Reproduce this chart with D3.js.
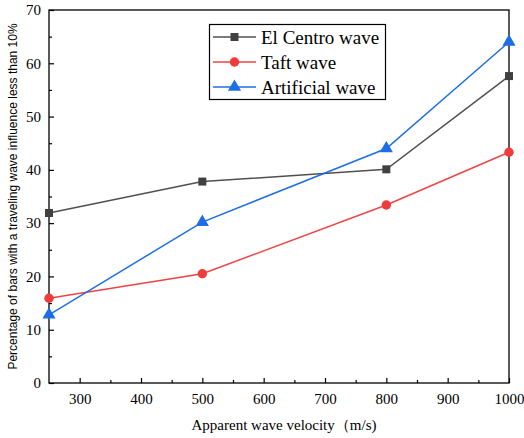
<!DOCTYPE html>
<html>
<head>
<meta charset="utf-8">
<script src="https://cdn.jsdelivr.net/npm/d3@7"></script>
<style>
  body { margin: 0; background: #fff; }
  svg { display: block; }
</style>
</head>
<body>
<svg id="chart" width="524" height="438"></svg>
<script>
// Apparent wave velocity (m/s)
const velocities = [250, 500, 800, 1000];
// Percentage of bars with traveling wave influence less than 10%
const elCentro = [31.9, 37.8, 40.1, 57.6];
const taft = [15.9, 20.5, 33.4, 43.3];
const artificial = [12.8, 30.2, 44.0, 64.0];
const seriesNames = ["El Centro wave", "Taft wave", "Artificial wave"];
const xTicks = [300, 400, 500, 600, 700, 800, 900, 1000];
const yTicks = [0, 10, 20, 30, 40, 50, 60, 70];

const series = [
  { name: seriesNames[0], values: elCentro, color: "#505050", mark: "#404040", shape: d3.symbolSquare, size: 64 },
  { name: seriesNames[1], values: taft, color: "#ef4444", mark: "#ef3b3b", shape: d3.symbolCircle, size: 70 },
  { name: seriesNames[2], values: artificial, color: "#1f6fe3", mark: "#1c6ee6", shape: d3.symbolTriangle, size: 75 }
];

const svg = d3.select("#chart");
const margin = { left: 49, right: 15, top: 10, bottom: 55 };
const W = 524, H = 438;
const x = d3.scaleLinear().domain([250, 1000]).range([margin.left, W - margin.right]);
const y = d3.scaleLinear().domain([0, 70]).range([H - margin.bottom, margin.top]);

const serif = "'Liberation Serif', 'Times New Roman', serif";

// Frame
svg.append("rect")
  .attr("x", x(250)).attr("y", y(70))
  .attr("width", x(1000) - x(250)).attr("height", y(0) - y(70))
  .attr("fill", "none").attr("stroke", "#000").attr("stroke-width", 1.3);

// Bottom axis: inward major and minor ticks
const xAxis = svg.append("g").attr("transform", `translate(0,${y(0)})`)
  .call(d3.axisBottom(x).tickValues(xTicks).tickFormat(d3.format("d"))
    .tickSizeInner(-5).tickSizeOuter(0).tickPadding(10));
xAxis.select(".domain").remove();
xAxis.selectAll("text").attr("font-family", serif).attr("font-size", 15).attr("fill", "#000");
xAxis.selectAll("line").attr("stroke-width", 1.2);
svg.append("g").attr("transform", `translate(0,${y(0)})`)
  .call(d3.axisBottom(x).tickValues(d3.range(350, 1000, 100)).tickSizeInner(-3).tickSizeOuter(0).tickFormat(""))
  .call(g => g.select(".domain").remove())
  .selectAll("line").attr("stroke-width", 1.2);

// Left axis
const yAxis = svg.append("g").attr("transform", `translate(${x(250)},0)`)
  .call(d3.axisLeft(y).tickValues(yTicks).tickFormat(d3.format("d"))
    .tickSizeInner(-5).tickSizeOuter(0).tickPadding(8));
yAxis.select(".domain").remove();
yAxis.selectAll("text").attr("font-family", serif).attr("font-size", 15).attr("fill", "#000");
yAxis.selectAll("line").attr("stroke-width", 1.2);
svg.append("g").attr("transform", `translate(${x(250)},0)`)
  .call(d3.axisLeft(y).tickValues(d3.range(5, 70, 10)).tickSizeInner(-3).tickSizeOuter(0).tickFormat(""))
  .call(g => g.select(".domain").remove())
  .selectAll("line").attr("stroke-width", 1.2);

// Axis titles
svg.append("text")
  .attr("x", (x(250) + x(1000)) / 2 + 5).attr("y", 430)
  .attr("text-anchor", "middle")
  .attr("font-family", serif).attr("font-size", 15)
  .text("Apparent wave velocity（m/s)");

svg.append("text")
  .attr("transform", `translate(17,${(y(0) + y(70)) / 2}) rotate(-90)`)
  .attr("text-anchor", "middle")
  .attr("font-family", "'Liberation Sans', Arial, sans-serif").attr("font-size", 12)
  .text("Percentage of bars with a traveling wave influence less than 10%");

// Lines and markers
const line = d3.line().x((d, i) => x(velocities[i])).y(d => y(d));
const plot = svg.append("g");
series.forEach(s => {
  plot.append("path").datum(s.values)
    .attr("d", line).attr("fill", "none")
    .attr("stroke", s.color).attr("stroke-width", 1.5);
  plot.selectAll(null).data(s.values).enter().append("path")
    .attr("transform", (d, i) => `translate(${x(velocities[i])},${y(d)})`)
    .attr("d", d3.symbol().type(s.shape).size(s.size))
    .attr("fill", s.mark);
});

// Legend
const lg = svg.append("g");
lg.append("rect").attr("x", 209.5).attr("y", 24.5).attr("width", 176).attr("height", 75)
  .attr("fill", "#fff").attr("stroke", "#000").attr("stroke-width", 1.2);
series.forEach((s, i) => {
  const cy = 37 + i * 25;
  lg.append("line").attr("x1", 213).attr("x2", 256).attr("y1", cy).attr("y2", cy)
    .attr("stroke", s.color).attr("stroke-width", 1.5);
  lg.append("path").attr("transform", `translate(234.5,${cy})`)
    .attr("d", d3.symbol().type(s.shape).size(s.size)).attr("fill", s.mark);
  lg.append("text").attr("x", 261).attr("y", cy + 6.5)
    .attr("font-family", serif).attr("font-size", 19).text(s.name);
});
</script>
</body>
</html>
